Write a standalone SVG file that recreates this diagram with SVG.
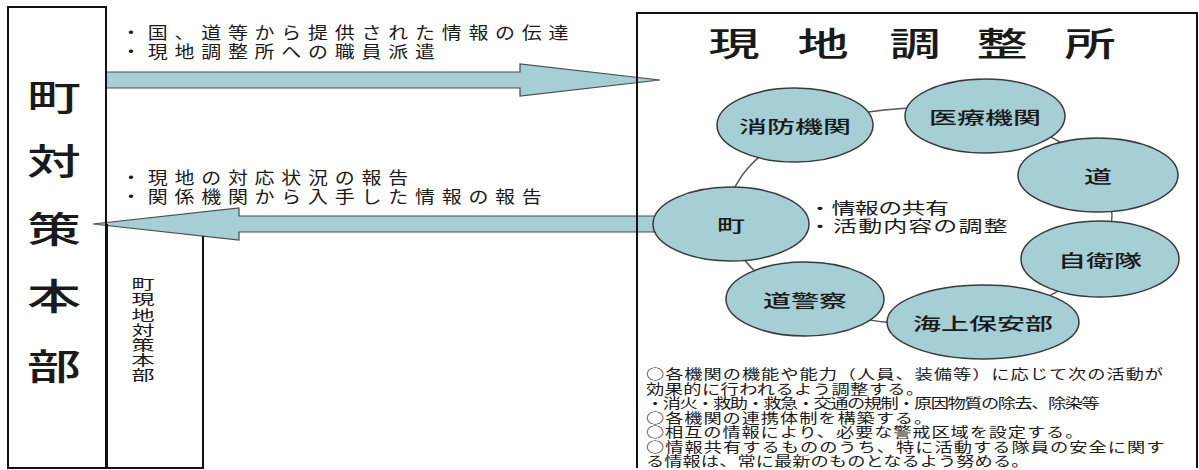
<svg xmlns="http://www.w3.org/2000/svg" width="1199" height="470" viewBox="0 0 1199 470">
<style>
text { font-family: "Noto Sans CJK JP", "Noto Sans CJK SC", sans-serif; fill: #1a1a1a; }
.box { fill: none; stroke: #111; stroke-width: 2; }
.arrow { fill: #a6ced5; stroke: #4a4a4a; stroke-width: 1.2; }
.node { fill: #a6ced5; stroke: #3a3a3a; stroke-width: 1.5; }
.link { fill: none; stroke: #555; stroke-width: 1.4; }
.lbl { font-size: 17.5px; text-anchor: middle; font-weight: 500; }
.big { font-size: 36px; text-anchor: middle; font-weight: 500; }
.vsm { font-size: 14px; text-anchor: middle; }
.ttl { font-size: 33px; text-anchor: middle; font-weight: 500; }
.note { font-size: 16.5px; letter-spacing: 5.6px; }
.mid { font-size: 16px; }
.foot { font-size: 13.5px; }
</style>
<rect width="1199" height="470" fill="#ffffff"/>

<g id="connectors">
  <ellipse class="link" cx="920" cy="216" rx="192" ry="108"/>
  <polygon class="arrow" points="106,72 520,72 520,64 660,80 520,96 520,88 106,88"/>
  <polygon class="arrow" points="93,224 239,208 239,216 700,216 700,232 239,232 239,240"/>
</g>

<g id="town-hq">
  <rect class="box" x="8" y="7" width="98" height="461"/>
  <text class="big" transform="translate(54,111) scale(1.5,1)">町</text>
  <text class="big" transform="translate(54,175) scale(1.5,1)">対</text>
  <text class="big" transform="translate(54,242.5) scale(1.5,1)">策</text>
  <text class="big" transform="translate(54,309.5) scale(1.5,1)">本</text>
  <text class="big" transform="translate(54,380) scale(1.5,1)">部</text>
</g>

<g id="town-field-hq">
  <path class="box" d="M203,236 V468 H107 V224"/>
  <text class="vsm" transform="translate(143,289.2) scale(1.65,1)">町</text>
  <text class="vsm" transform="translate(143,304.4) scale(1.65,1)">現</text>
  <text class="vsm" transform="translate(143,319.6) scale(1.65,1)">地</text>
  <text class="vsm" transform="translate(143,334.8) scale(1.65,1)">対</text>
  <text class="vsm" transform="translate(143,350) scale(1.65,1)">策</text>
  <text class="vsm" transform="translate(143,365.2) scale(1.65,1)">本</text>
  <text class="vsm" transform="translate(143,380.4) scale(1.65,1)">部</text>
</g>

<g id="arrow-labels">
  <text class="note" transform="translate(121,39.2) scale(1.21,1)">・国、道等から提供された情報の伝達</text>
  <text class="note" transform="translate(121,58.2) scale(1.21,1)">・現地調整所への職員派遣</text>
  <text class="note" transform="translate(121,184.2) scale(1.21,1)">・現地の対応状況の報告</text>
  <text class="note" transform="translate(121,203.2) scale(1.21,1)">・関係機関から入手した情報の報告</text>
</g>

<g id="field-office">
  <path class="box" d="M637,468 V13 H1197 V468"/>
  <text class="ttl" transform="translate(734,56) scale(1.55,1)">現</text>
  <text class="ttl" transform="translate(823,56) scale(1.55,1)">地</text>
  <text class="ttl" transform="translate(915,56) scale(1.55,1)">調</text>
  <text class="ttl" transform="translate(1002,56) scale(1.55,1)">整</text>
  <text class="ttl" transform="translate(1090,56) scale(1.55,1)">所</text>
</g>

<g id="node-fire">
  <ellipse class="node" cx="795" cy="125" rx="78" ry="37"/>
  <text class="lbl" transform="translate(795,132.5) scale(1.6,1)">消防機関</text>
</g>
<g id="node-medical">
  <ellipse class="node" cx="985" cy="116" rx="80" ry="37"/>
  <text class="lbl" transform="translate(985,123.5) scale(1.6,1)">医療機関</text>
</g>
<g id="node-pref">
  <ellipse class="node" cx="1098" cy="175" rx="80" ry="37"/>
  <text class="lbl" transform="translate(1098,182.5) scale(1.6,1)">道</text>
</g>
<g id="node-sdf">
  <ellipse class="node" cx="1100" cy="259" rx="79" ry="38"/>
  <text class="lbl" transform="translate(1100,266.5) scale(1.6,1)">自衛隊</text>
</g>
<g id="node-coastguard">
  <ellipse class="node" cx="983" cy="322" rx="96" ry="37"/>
  <text class="lbl" transform="translate(983,329.5) scale(1.6,1)">海上保安部</text>
</g>
<g id="node-police">
  <ellipse class="node" cx="805" cy="299" rx="79" ry="37"/>
  <text class="lbl" transform="translate(805,306.5) scale(1.6,1)">道警察</text>
</g>
<g id="node-town">
  <ellipse class="node" cx="731" cy="224" rx="78" ry="37"/>
  <text class="lbl" transform="translate(731,231.5) scale(1.6,1)">町</text>
</g>

<g id="center-note">
  <text class="mid" transform="translate(808,214) scale(1.5,1)" textLength="94" lengthAdjust="spacing">・情報の共有</text>
  <text class="mid" transform="translate(808,232) scale(1.5,1)" textLength="133" lengthAdjust="spacing">・活動内容の調整</text>
</g>

<g id="footnotes">
  <text class="foot" transform="translate(646,379) scale(1.35,1)" textLength="383" lengthAdjust="spacing">○各機関の機能や能力（人員、装備等）に応じて次の活動が</text>
  <text class="foot" transform="translate(646,393.5) scale(1.35,1)" textLength="206" lengthAdjust="spacing">効果的に行われるよう調整する。</text>
  <text class="foot" transform="translate(646,408) scale(1.35,1)" textLength="336" lengthAdjust="spacing">・消火・救助・救急・交通の規制・原因物質の除去、除染等</text>
  <text class="foot" transform="translate(646,422.5) scale(1.35,1)" textLength="212" lengthAdjust="spacing">○各機関の連携体制を構築する。</text>
  <text class="foot" transform="translate(646,437) scale(1.35,1)" textLength="324" lengthAdjust="spacing">○相互の情報により、必要な警戒区域を設定する。</text>
  <text class="foot" transform="translate(646,451.5) scale(1.35,1)" textLength="384" lengthAdjust="spacing">○情報共有するもののうち、特に活動する隊員の安全に関す</text>
  <text class="foot" transform="translate(646,466) scale(1.35,1)" textLength="284" lengthAdjust="spacing">る情報は、常に最新のものとなるよう努める。</text>
</g>
</svg>
